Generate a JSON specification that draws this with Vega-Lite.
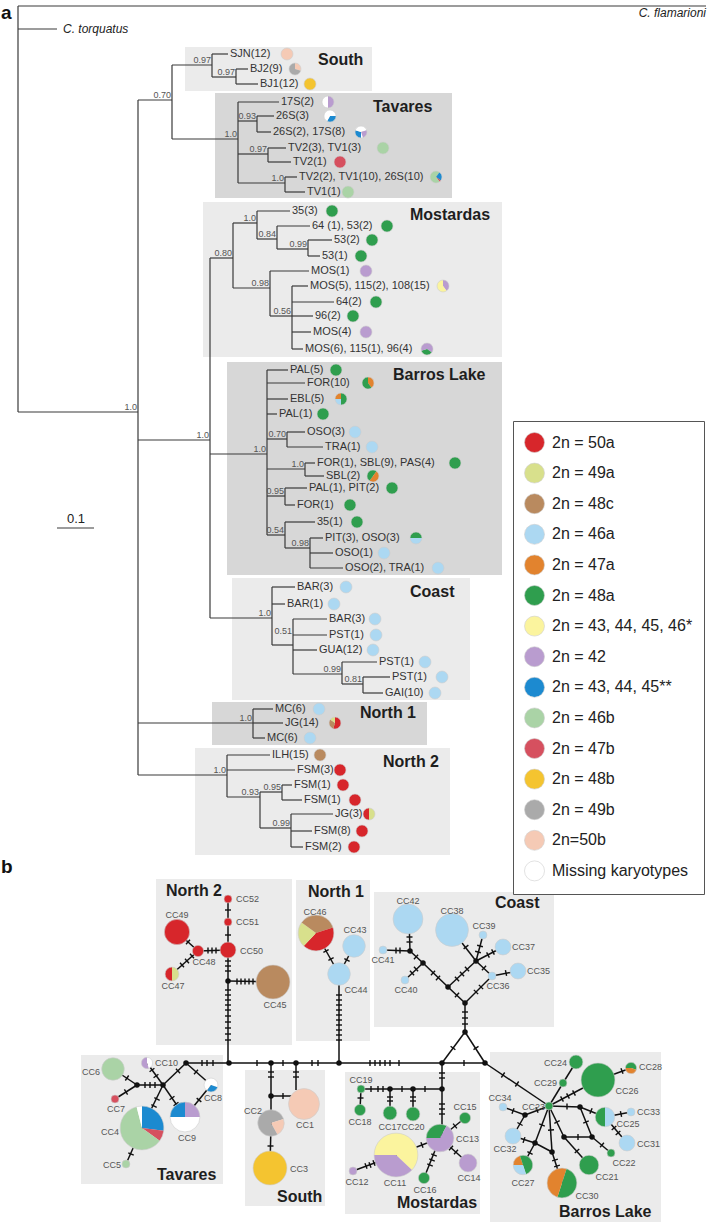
{
"$schema": "https://vega.github.io/schema/vega-lite/v6.json",
"width": 711, "height": 1224, "autosize": {"type": "none"}, "padding": 0,
"background": "white",
"config": {"view": {"stroke": null}, "font": "Liberation Sans"},
"datasets": {
"boxes": [
{"x":185,"y":47,"x2":372,"y2":91,"s":"l"},
{"x":215,"y":93,"x2":452,"y2":198,"s":"d"},
{"x":203,"y":202,"x2":502,"y2":357,"s":"l"},
{"x":227,"y":362,"x2":502,"y2":575,"s":"d"},
{"x":232,"y":578,"x2":470,"y2":700,"s":"l"},
{"x":212,"y":702,"x2":427,"y2":745,"s":"d"},
{"x":195,"y":748,"x2":450,"y2":855,"s":"l"},
{"x":156,"y":879,"x2":292,"y2":1045,"s":"l"},
{"x":296,"y":880,"x2":370,"y2":1041,"s":"l"},
{"x":374,"y":892,"x2":554,"y2":1027,"s":"l"},
{"x":81,"y":1055,"x2":223,"y2":1184,"s":"l"},
{"x":245,"y":1070,"x2":325,"y2":1206,"s":"l"},
{"x":345,"y":1072,"x2":480,"y2":1214,"s":"l"},
{"x":490,"y":1052,"x2":661,"y2":1222,"s":"l"}
],
"tree": [
{"x":18,"y":6,"x2":706,"y2":6},{"x":18,"y":6,"x2":18,"y2":412},{"x":18,"y":29,"x2":57,"y2":29},{"x":18,"y":412,"x2":138,"y2":412},
{"x":138,"y":100,"x2":138,"y2":775},{"x":138,"y":100,"x2":172,"y2":100},{"x":172,"y":65,"x2":172,"y2":139},{"x":172,"y":65,"x2":212,"y2":65},
{"x":212,"y":54,"x2":212,"y2":77},{"x":212,"y":54,"x2":228,"y2":54},{"x":212,"y":77,"x2":236,"y2":77},{"x":236,"y":69,"x2":236,"y2":84},
{"x":236,"y":69,"x2":248,"y2":69},{"x":236,"y":84,"x2":258,"y2":84},{"x":172,"y":139,"x2":238,"y2":139},{"x":238,"y":102,"x2":238,"y2":183},
{"x":238,"y":102,"x2":279,"y2":102},{"x":238,"y":121,"x2":257,"y2":121},{"x":257,"y":116,"x2":257,"y2":132},{"x":257,"y":116,"x2":274,"y2":116},
{"x":257,"y":132,"x2":271,"y2":132},{"x":238,"y":154,"x2":268,"y2":154},{"x":268,"y":148,"x2":268,"y2":162},{"x":268,"y":148,"x2":286,"y2":148},
{"x":268,"y":162,"x2":291,"y2":162},{"x":238,"y":183,"x2":285,"y2":183},{"x":285,"y":177,"x2":285,"y2":192},{"x":285,"y":177,"x2":297,"y2":177},
{"x":285,"y":192,"x2":305,"y2":192},
{"x":138,"y":440,"x2":210,"y2":440},{"x":210,"y":258,"x2":210,"y2":618},{"x":210,"y":258,"x2":233,"y2":258},{"x":233,"y":223,"x2":233,"y2":288},
{"x":233,"y":223,"x2":257,"y2":223},{"x":257,"y":211,"x2":257,"y2":239},{"x":257,"y":211,"x2":290,"y2":211},{"x":257,"y":239,"x2":277,"y2":239},
{"x":277,"y":226,"x2":277,"y2":249},{"x":277,"y":226,"x2":310,"y2":226},{"x":277,"y":249,"x2":308,"y2":249},{"x":308,"y":240,"x2":308,"y2":256},
{"x":308,"y":240,"x2":332,"y2":240},{"x":308,"y":256,"x2":320,"y2":256},{"x":233,"y":288,"x2":270,"y2":288},{"x":270,"y":271,"x2":270,"y2":316},
{"x":270,"y":271,"x2":309,"y2":271},{"x":270,"y":316,"x2":292,"y2":316},{"x":292,"y":286,"x2":292,"y2":349},{"x":292,"y":286,"x2":308,"y2":286},
{"x":292,"y":302,"x2":334,"y2":302},{"x":292,"y":316,"x2":313,"y2":316},{"x":292,"y":332,"x2":311,"y2":332},{"x":292,"y":349,"x2":303,"y2":349},
{"x":210,"y":454,"x2":267,"y2":454},{"x":267,"y":370,"x2":267,"y2":535},{"x":267,"y":370,"x2":288,"y2":370},{"x":267,"y":383,"x2":305,"y2":383},
{"x":267,"y":399,"x2":288,"y2":399},{"x":267,"y":414,"x2":277,"y2":414},{"x":267,"y":439,"x2":287,"y2":439},{"x":287,"y":432,"x2":287,"y2":447},
{"x":287,"y":432,"x2":305,"y2":432},{"x":287,"y":447,"x2":323,"y2":447},{"x":267,"y":469,"x2":305,"y2":469},{"x":305,"y":463,"x2":305,"y2":476},
{"x":305,"y":463,"x2":315,"y2":463},{"x":305,"y":476,"x2":324,"y2":476},{"x":267,"y":496,"x2":285,"y2":496},{"x":285,"y":488,"x2":285,"y2":505},
{"x":285,"y":488,"x2":307,"y2":488},{"x":285,"y":505,"x2":295,"y2":505},{"x":267,"y":535,"x2":285,"y2":535},{"x":285,"y":522,"x2":285,"y2":548},
{"x":285,"y":522,"x2":315,"y2":522},{"x":285,"y":548,"x2":310,"y2":548},{"x":310,"y":538,"x2":310,"y2":568},{"x":310,"y":538,"x2":323,"y2":538},
{"x":310,"y":553,"x2":333,"y2":553},{"x":310,"y":568,"x2":343,"y2":568},
{"x":210,"y":618,"x2":272,"y2":618},{"x":272,"y":587,"x2":272,"y2":645},{"x":272,"y":587,"x2":295,"y2":587},{"x":272,"y":604,"x2":285,"y2":604},
{"x":272,"y":645,"x2":293,"y2":645},{"x":293,"y":619,"x2":293,"y2":674},{"x":293,"y":619,"x2":327,"y2":619},{"x":293,"y":635,"x2":327,"y2":635},
{"x":293,"y":650,"x2":317,"y2":650},{"x":293,"y":674,"x2":342,"y2":674},{"x":342,"y":662,"x2":342,"y2":684},{"x":342,"y":662,"x2":377,"y2":662},
{"x":342,"y":684,"x2":363,"y2":684},{"x":363,"y":677,"x2":363,"y2":693},{"x":363,"y":677,"x2":390,"y2":677},{"x":363,"y":693,"x2":383,"y2":693},
{"x":138,"y":723,"x2":253,"y2":723},{"x":253,"y":709,"x2":253,"y2":738},{"x":253,"y":709,"x2":273,"y2":709},{"x":253,"y":723,"x2":283,"y2":723},
{"x":253,"y":738,"x2":265,"y2":738},
{"x":138,"y":775,"x2":227,"y2":775},{"x":227,"y":755,"x2":227,"y2":797},{"x":227,"y":755,"x2":270,"y2":755},{"x":227,"y":770,"x2":295,"y2":770},
{"x":227,"y":797,"x2":260,"y2":797},{"x":260,"y":792,"x2":260,"y2":828},{"x":260,"y":792,"x2":282,"y2":792},{"x":282,"y":785,"x2":282,"y2":800},
{"x":282,"y":785,"x2":292,"y2":785},{"x":282,"y":800,"x2":302,"y2":800},{"x":260,"y":828,"x2":291,"y2":828},{"x":291,"y":814,"x2":291,"y2":847},
{"x":291,"y":814,"x2":333,"y2":814},{"x":291,"y":831,"x2":312,"y2":831},{"x":291,"y":847,"x2":303,"y2":847},
{"x":57,"y":528,"x2":94,"y2":528}
],
"tips": [
{"t":"SJN(12)","x":230,"y":54},{"t":"BJ2(9)","x":250,"y":69},{"t":"BJ1(12)","x":260,"y":84},
{"t":"17S(2)","x":281,"y":102},{"t":"26S(3)","x":276,"y":116},{"t":"26S(2), 17S(8)","x":273,"y":132},
{"t":"TV2(3), TV1(3)","x":288,"y":148},{"t":"TV2(1)","x":293,"y":162},{"t":"TV2(2), TV1(10), 26S(10)","x":299,"y":177},{"t":"TV1(1)","x":307,"y":192},
{"t":"35(3)","x":292,"y":211},{"t":"64 (1), 53(2)","x":312,"y":226},{"t":"53(2)","x":334,"y":240},{"t":"53(1)","x":322,"y":256},
{"t":"MOS(1)","x":311,"y":271},{"t":"MOS(5), 115(2), 108(15)","x":310,"y":286},{"t":"64(2)","x":336,"y":302},{"t":"96(2)","x":315,"y":316},
{"t":"MOS(4)","x":313,"y":332},{"t":"MOS(6), 115(1), 96(4)","x":305,"y":349},
{"t":"PAL(5)","x":290,"y":370},{"t":"FOR(10)","x":307,"y":383},{"t":"EBL(5)","x":290,"y":399},{"t":"PAL(1)","x":279,"y":414},
{"t":"OSO(3)","x":307,"y":432},{"t":"TRA(1)","x":325,"y":447},{"t":"FOR(1), SBL(9), PAS(4)","x":317,"y":463},{"t":"SBL(2)","x":326,"y":476},
{"t":"PAL(1), PIT(2)","x":309,"y":488},{"t":"FOR(1)","x":297,"y":505},{"t":"35(1)","x":317,"y":522},{"t":"PIT(3), OSO(3)","x":325,"y":538},
{"t":"OSO(1)","x":335,"y":553},{"t":"OSO(2), TRA(1)","x":345,"y":568},
{"t":"BAR(3)","x":297,"y":587},{"t":"BAR(1)","x":287,"y":604},{"t":"BAR(3)","x":329,"y":619},{"t":"PST(1)","x":329,"y":635},
{"t":"GUA(12)","x":319,"y":650},{"t":"PST(1)","x":379,"y":662},{"t":"PST(1)","x":392,"y":677},{"t":"GAI(10)","x":385,"y":693},
{"t":"MC(6)","x":275,"y":709},{"t":"JG(14)","x":285,"y":723},{"t":"MC(6)","x":267,"y":738},
{"t":"ILH(15)","x":272,"y":755},{"t":"FSM(3)","x":297,"y":770},{"t":"FSM(1)","x":294,"y":785},{"t":"FSM(1)","x":304,"y":800},
{"t":"JG(3)","x":335,"y":814},{"t":"FSM(8)","x":314,"y":831},{"t":"FSM(2)","x":305,"y":847}
],
"sup": [
{"t":"1.0","x":138,"y":412},{"t":"0.70","x":172,"y":100},{"t":"0.97","x":212,"y":65},{"t":"0.97","x":236,"y":77},{"t":"1.0","x":238,"y":139},
{"t":"0.93","x":257,"y":121},{"t":"0.97","x":268,"y":154},{"t":"1.0","x":285,"y":183},{"t":"1.0","x":210,"y":440},{"t":"0.80","x":233,"y":258},
{"t":"1.0","x":257,"y":223},{"t":"0.84","x":277,"y":239},{"t":"0.99","x":308,"y":249},{"t":"0.98","x":270,"y":288},{"t":"0.56","x":292,"y":316},
{"t":"1.0","x":267,"y":454},{"t":"0.70","x":287,"y":439},{"t":"1.0","x":305,"y":469},{"t":"0.95","x":285,"y":496},{"t":"0.54","x":285,"y":535},
{"t":"0.98","x":310,"y":548},{"t":"1.0","x":272,"y":618},{"t":"0.51","x":293,"y":636},{"t":"0.99","x":342,"y":674},{"t":"0.81","x":363,"y":684},
{"t":"1.0","x":253,"y":723},{"t":"1.0","x":227,"y":775},{"t":"0.93","x":260,"y":797},{"t":"0.95","x":282,"y":792},{"t":"0.99","x":291,"y":828}
],
"titles": [
{"t":"South","x":318,"y":60},{"t":"Tavares","x":373,"y":107},{"t":"Mostardas","x":410,"y":215},{"t":"Barros Lake","x":393,"y":375},
{"t":"Coast","x":410,"y":592},{"t":"North 1","x":360,"y":713},{"t":"North 2","x":383,"y":762},
{"t":"North 2","x":166,"y":891},{"t":"North 1","x":308,"y":892},{"t":"Coast","x":495,"y":903},{"t":"Tavares","x":157,"y":1175},
{"t":"South","x":277,"y":1197},{"t":"Mostardas","x":397,"y":1203},{"t":"Barros Lake","x":559,"y":1212}
],
"tpies": [
{"id":"t1","x":287,"y":54,"k":"2n=50b","f":1},
{"id":"t2","x":295,"y":69,"k":"2n=50b","f":0.3,"o":1},{"id":"t2","x":295,"y":69,"k":"2n = 49b","f":0.7,"o":2},
{"id":"t3","x":310,"y":84,"k":"2n = 48b","f":1},
{"id":"t4","x":328,"y":102,"k":"2n = 42","f":0.5,"o":1},{"id":"t4","x":328,"y":102,"k":"Missing karyotypes","f":0.5,"o":2},
{"id":"t5","x":330,"y":116,"k":"Missing karyotypes","f":0.25,"o":1},{"id":"t5","x":330,"y":116,"k":"2n = 43, 44, 45**","f":0.33,"o":2},{"id":"t5","x":330,"y":116,"k":"Missing karyotypes","f":0.42,"o":3},
{"id":"t6","x":361,"y":132,"k":"Missing karyotypes","f":0.2,"o":1},{"id":"t6","x":361,"y":132,"k":"2n = 42","f":0.25,"o":2},{"id":"t6","x":361,"y":132,"k":"Missing karyotypes","f":0.05,"o":3},{"id":"t6","x":361,"y":132,"k":"2n = 43, 44, 45**","f":0.3,"o":4},{"id":"t6","x":361,"y":132,"k":"Missing karyotypes","f":0.2,"o":5},
{"id":"t7","x":383,"y":148,"k":"2n = 46b","f":1},
{"id":"t8","x":340,"y":162,"k":"2n = 47b","f":1},
{"id":"t9","x":436,"y":177,"k":"2n = 46b","f":0.1,"o":1},{"id":"t9","x":436,"y":177,"k":"2n = 43, 44, 45**","f":0.25,"o":2},{"id":"t9","x":436,"y":177,"k":"2n = 47b","f":0.05,"o":3},{"id":"t9","x":436,"y":177,"k":"2n = 46b","f":0.6,"o":4},
{"id":"t10","x":348,"y":192,"k":"2n = 46b","f":1},
{"id":"t11","x":332,"y":211,"k":"2n = 48a","f":1},
{"id":"t12","x":387,"y":226,"k":"2n = 48a","f":1},
{"id":"t13","x":372,"y":240,"k":"2n = 48a","f":1},
{"id":"t14","x":361,"y":256,"k":"2n = 48a","f":1},
{"id":"t15","x":366,"y":271,"k":"2n = 42","f":1},
{"id":"t16","x":443,"y":286,"k":"2n = 42","f":0.4,"o":1},{"id":"t16","x":443,"y":286,"k":"2n = 43, 44, 45, 46*","f":0.6,"o":2},
{"id":"t17","x":376,"y":302,"k":"2n = 48a","f":1},
{"id":"t18","x":353,"y":316,"k":"2n = 48a","f":1},
{"id":"t19","x":366,"y":332,"k":"2n = 42","f":1},
{"id":"t20","x":427,"y":349,"k":"2n = 42","f":0.35,"o":1},{"id":"t20","x":427,"y":349,"k":"2n = 48a","f":0.35,"o":2},{"id":"t20","x":427,"y":349,"k":"2n = 42","f":0.3,"o":3},
{"id":"t21","x":336,"y":370,"k":"2n = 48a","f":1},
{"id":"t22","x":368,"y":383,"k":"2n = 47a","f":0.4,"o":1},{"id":"t22","x":368,"y":383,"k":"2n = 48a","f":0.6,"o":2},
{"id":"t23","x":341,"y":399,"k":"2n = 48a","f":0.5,"o":1},{"id":"t23","x":341,"y":399,"k":"2n = 46a","f":0.25,"o":2},{"id":"t23","x":341,"y":399,"k":"2n = 47a","f":0.25,"o":3},
{"id":"t24","x":323,"y":414,"k":"2n = 48a","f":1},
{"id":"t25","x":355,"y":432,"k":"2n = 46a","f":1},
{"id":"t26","x":372,"y":447,"k":"2n = 46a","f":1},
{"id":"t27","x":455,"y":463,"k":"2n = 48a","f":1},
{"id":"t28","x":373,"y":476,"k":"2n = 48a","f":0.1,"o":1},{"id":"t28","x":373,"y":476,"k":"2n = 47a","f":0.5,"o":2},{"id":"t28","x":373,"y":476,"k":"2n = 48a","f":0.4,"o":3},
{"id":"t29","x":392,"y":488,"k":"2n = 48a","f":1},
{"id":"t30","x":350,"y":505,"k":"2n = 48a","f":1},
{"id":"t31","x":357,"y":522,"k":"2n = 48a","f":1},
{"id":"t32","x":416,"y":538,"k":"2n = 48a","f":0.25,"o":1},{"id":"t32","x":416,"y":538,"k":"2n = 46a","f":0.5,"o":2},{"id":"t32","x":416,"y":538,"k":"2n = 48a","f":0.25,"o":3},
{"id":"t33","x":384,"y":553,"k":"2n = 46a","f":1},
{"id":"t34","x":438,"y":568,"k":"2n = 46a","f":1},
{"id":"t35","x":346,"y":587,"k":"2n = 46a","f":1},
{"id":"t36","x":334,"y":604,"k":"2n = 46a","f":1},
{"id":"t37","x":375,"y":619,"k":"2n = 46a","f":1},
{"id":"t38","x":376,"y":635,"k":"2n = 46a","f":1},
{"id":"t39","x":373,"y":650,"k":"2n = 46a","f":1},
{"id":"t40","x":425,"y":662,"k":"2n = 46a","f":1},
{"id":"t41","x":442,"y":677,"k":"2n = 46a","f":1},
{"id":"t42","x":435,"y":693,"k":"2n = 46a","f":1},
{"id":"t43","x":319,"y":709,"k":"2n = 46a","f":1},
{"id":"t44","x":335,"y":723,"k":"2n = 50a","f":0.55,"o":1},{"id":"t44","x":335,"y":723,"k":"2n = 48c","f":0.3,"o":2},{"id":"t44","x":335,"y":723,"k":"2n = 49a","f":0.15,"o":3},
{"id":"t45","x":310,"y":738,"k":"2n = 46a","f":1},
{"id":"t46","x":320,"y":755,"k":"2n = 48c","f":1},
{"id":"t47","x":340,"y":770,"k":"2n = 50a","f":1},
{"id":"t48","x":343,"y":785,"k":"2n = 50a","f":1},
{"id":"t49","x":355,"y":800,"k":"2n = 50a","f":1},
{"id":"t50","x":369,"y":814,"k":"2n = 49a","f":0.5,"o":1},{"id":"t50","x":369,"y":814,"k":"2n = 50a","f":0.5,"o":2},
{"id":"t51","x":362,"y":831,"k":"2n = 50a","f":1},
{"id":"t52","x":354,"y":847,"k":"2n = 50a","f":1}
],
"npies": [
{"id":"CC52","x":228,"y":899,"n":1,"k":"2n = 50a","f":1},
{"id":"CC51","x":228,"y":922,"n":1,"k":"2n = 50a","f":1},
{"id":"CC50","x":228,"y":950,"n":4,"k":"2n = 50a","f":1},
{"id":"CC49","x":177,"y":932,"n":10,"k":"2n = 50a","f":1},
{"id":"CC48","x":198,"y":951,"n":2,"k":"2n = 50a","f":1},
{"id":"CC47","x":172,"y":974,"n":3,"k":"2n = 49a","f":0.5,"o":1},{"id":"CC47","x":172,"y":974,"n":3,"k":"2n = 50a","f":0.5,"o":2},
{"id":"CC45","x":273,"y":982,"n":18,"k":"2n = 48c","f":1},
{"id":"CC46","x":316,"y":933,"n":20,"k":"2n = 48c","f":0.2,"o":1},{"id":"CC46","x":316,"y":933,"n":20,"k":"2n = 50a","f":0.42,"o":2},{"id":"CC46","x":316,"y":933,"n":20,"k":"2n = 49a","f":0.23,"o":3},{"id":"CC46","x":316,"y":933,"n":20,"k":"2n = 48c","f":0.15,"o":4},
{"id":"CC43","x":354,"y":946,"n":8,"k":"2n = 46a","f":1},
{"id":"CC44","x":339,"y":974,"n":8,"k":"2n = 46a","f":1},
{"id":"CC42","x":408,"y":919,"n":14,"k":"2n = 46a","f":1},
{"id":"CC38","x":452,"y":930,"n":17,"k":"2n = 46a","f":1},
{"id":"CC39","x":483,"y":935,"n":1,"k":"2n = 46a","f":1},
{"id":"CC37","x":503,"y":947,"n":4,"k":"2n = 46a","f":1},
{"id":"CC35","x":518,"y":971,"n":4,"k":"2n = 46a","f":1},
{"id":"CC36","x":492,"y":976,"n":1,"k":"2n = 46a","f":1},
{"id":"CC41","x":383,"y":950,"n":1,"k":"2n = 46a","f":1},
{"id":"CC40","x":405,"y":980,"n":1,"k":"2n = 46a","f":1},
{"id":"CC6","x":113,"y":1069,"n":8,"k":"2n = 46b","f":1},
{"id":"CC7","x":115,"y":1099,"n":1,"k":"2n = 47b","f":1},
{"id":"CC10","x":147,"y":1063,"n":2,"k":"Missing karyotypes","f":0.45,"o":1},{"id":"CC10","x":147,"y":1063,"n":2,"k":"2n = 42","f":0.55,"o":2},
{"id":"CC8","x":211,"y":1085,"n":3,"k":"Missing karyotypes","f":0.3,"o":1},{"id":"CC8","x":211,"y":1085,"n":3,"k":"2n = 43, 44, 45**","f":0.3,"o":2},{"id":"CC8","x":211,"y":1085,"n":3,"k":"Missing karyotypes","f":0.4,"o":3},
{"id":"CC9","x":185,"y":1117,"n":14,"k":"2n = 42","f":0.25,"o":1},{"id":"CC9","x":185,"y":1117,"n":14,"k":"Missing karyotypes","f":0.5,"o":2},{"id":"CC9","x":185,"y":1117,"n":14,"k":"2n = 43, 44, 45**","f":0.25,"o":3},
{"id":"CC4","x":142,"y":1128,"n":30,"k":"2n = 43, 44, 45**","f":0.27,"o":1},{"id":"CC4","x":142,"y":1128,"n":30,"k":"2n = 47b","f":0.08,"o":2},{"id":"CC4","x":142,"y":1128,"n":30,"k":"2n = 46b","f":0.61,"o":3},{"id":"CC4","x":142,"y":1128,"n":30,"k":"Missing karyotypes","f":0.04,"o":4},
{"id":"CC5","x":126,"y":1164,"n":1,"k":"2n = 46b","f":1},
{"id":"CC1","x":304,"y":1104,"n":15,"k":"2n=50b","f":1},
{"id":"CC2","x":271,"y":1123,"n":11,"k":"2n = 49b","f":0.2,"o":1},{"id":"CC2","x":271,"y":1123,"n":11,"k":"2n=50b","f":0.22,"o":2},{"id":"CC2","x":271,"y":1123,"n":11,"k":"2n = 49b","f":0.58,"o":3},
{"id":"CC3","x":270,"y":1168,"n":18,"k":"2n = 48b","f":1},
{"id":"CC19","x":361,"y":1089,"n":1,"k":"2n = 48a","f":1},
{"id":"CC18","x":360,"y":1110,"n":2,"k":"2n = 48a","f":1},
{"id":"CC17","x":390,"y":1113,"n":3,"k":"2n = 48a","f":1},
{"id":"CC20","x":413,"y":1114,"n":3,"k":"2n = 48a","f":1},
{"id":"CC13","x":440,"y":1138,"n":12,"k":"2n = 48a","f":0.08,"o":1},{"id":"CC13","x":440,"y":1138,"n":12,"k":"2n = 42","f":0.67,"o":2},{"id":"CC13","x":440,"y":1138,"n":12,"k":"2n = 48a","f":0.25,"o":3},
{"id":"CC15","x":465,"y":1118,"n":2,"k":"2n = 48a","f":1},
{"id":"CC14","x":468,"y":1163,"n":5,"k":"2n = 42","f":1},
{"id":"CC16","x":424,"y":1178,"n":2,"k":"2n = 48a","f":1},
{"id":"CC11","x":396,"y":1155,"n":30,"k":"2n = 43, 44, 45, 46*","f":0.37,"o":1},{"id":"CC11","x":396,"y":1155,"n":30,"k":"2n = 42","f":0.38,"o":2},{"id":"CC11","x":396,"y":1155,"n":30,"k":"2n = 43, 44, 45, 46*","f":0.25,"o":3},
{"id":"CC12","x":353,"y":1171,"n":1,"k":"2n = 42","f":1},
{"id":"CC23","x":549,"y":1106,"n":1,"k":"2n = 48a","f":1},
{"id":"CC24","x":576,"y":1062,"n":3,"k":"2n = 48a","f":1},
{"id":"CC29","x":563,"y":1083,"n":1,"k":"2n = 48a","f":1},
{"id":"CC26","x":598,"y":1080,"n":18,"k":"2n = 48a","f":1},
{"id":"CC28","x":631,"y":1068,"n":2,"k":"2n = 48a","f":0.3,"o":1},{"id":"CC28","x":631,"y":1068,"n":2,"k":"2n = 47a","f":0.45,"o":2},{"id":"CC28","x":631,"y":1068,"n":2,"k":"2n = 48a","f":0.25,"o":3},
{"id":"CC34","x":503,"y":1107,"n":1,"k":"2n = 46a","f":1},
{"id":"CC25","x":605,"y":1117,"n":6,"k":"2n = 46a","f":0.5,"o":1},{"id":"CC25","x":605,"y":1117,"n":6,"k":"2n = 48a","f":0.5,"o":2},
{"id":"CC33","x":631,"y":1112,"n":1,"k":"2n = 46a","f":1},
{"id":"CC31","x":627,"y":1143,"n":4,"k":"2n = 46a","f":1},
{"id":"CC22","x":611,"y":1153,"n":1,"k":"2n = 48a","f":1},
{"id":"CC21","x":589,"y":1165,"n":6,"k":"2n = 48a","f":1},
{"id":"CC30","x":562,"y":1183,"n":14,"k":"2n = 47a","f":0.05,"o":1},{"id":"CC30","x":562,"y":1183,"n":14,"k":"2n = 48a","f":0.5,"o":2},{"id":"CC30","x":562,"y":1183,"n":14,"k":"2n = 47a","f":0.45,"o":3},
{"id":"CC27","x":523,"y":1165,"n":6,"k":"2n = 48a","f":0.45,"o":1},{"id":"CC27","x":523,"y":1165,"n":6,"k":"2n = 46a","f":0.3,"o":2},{"id":"CC27","x":523,"y":1165,"n":6,"k":"2n = 47a","f":0.2,"o":3},{"id":"CC27","x":523,"y":1165,"n":6,"k":"2n = 48a","f":0.05,"o":4},
{"id":"CC32","x":513,"y":1136,"n":4,"k":"2n = 46a","f":1}
],
"edges": [
{"x":228,"y":899,"x2":228,"y2":1063},{"x":177,"y":932,"x2":198,"y2":951},{"x":198,"y":951,"x2":228,"y2":950},{"x":198,"y":951,"x2":172,"y2":974},{"x":228,"y":981,"x2":273,"y2":982},
{"x":316,"y":933,"x2":339,"y2":974},{"x":354,"y":946,"x2":339,"y2":974},{"x":339,"y":974,"x2":339,"y2":1063},
{"x":409,"y":919,"x2":410,"y2":951},{"x":383,"y":950,"x2":410,"y2":951},{"x":410,"y":951,"x2":423,"y2":963},{"x":423,"y":963,"x2":405,"y2":980},{"x":423,"y":963,"x2":448,"y2":987},
{"x":448,"y":987,"x2":465,"y2":1003},{"x":448,"y":987,"x2":476,"y2":961},{"x":465,"y":1003,"x2":492,"y2":976},{"x":476,"y":961,"x2":492,"y2":976},{"x":476,"y":961,"x2":452,"y2":930},
{"x":476,"y":961,"x2":483,"y2":935},{"x":476,"y":961,"x2":503,"y2":947},{"x":492,"y":976,"x2":518,"y2":971},{"x":465,"y":1003,"x2":465,"y2":1032},{"x":465,"y":1032,"x2":442,"y2":1063},{"x":465,"y":1032,"x2":485,"y2":1063},
{"x":186,"y":1063,"x2":485,"y2":1063},{"x":485,"y":1063,"x2":549,"y2":1106},
{"x":271,"y":1063,"x2":271,"y2":1123},{"x":296,"y":1063,"x2":296,"y2":1090},{"x":271,"y":1096,"x2":300,"y2":1096},{"x":271,"y":1123,"x2":270,"y2":1168},
{"x":442,"y":1063,"x2":442,"y2":1138},{"x":361,"y":1089,"x2":442,"y2":1089},{"x":361,"y":1089,"x2":360,"y2":1110},{"x":390,"y":1089,"x2":390,"y2":1113},{"x":413,"y":1089,"x2":413,"y2":1114},
{"x":440,"y":1138,"x2":465,"y2":1118},{"x":440,"y":1138,"x2":468,"y2":1163},{"x":440,"y":1138,"x2":424,"y2":1178},{"x":440,"y":1138,"x2":396,"y2":1155},{"x":396,"y":1155,"x2":353,"y2":1171},
{"x":186,"y":1063,"x2":163,"y2":1085},{"x":186,"y":1063,"x2":211,"y2":1085},{"x":163,"y":1085,"x2":137,"y2":1085},{"x":137,"y":1085,"x2":113,"y2":1069},{"x":137,"y":1085,"x2":115,"y2":1099},
{"x":163,"y":1085,"x2":147,"y2":1063},{"x":163,"y":1085,"x2":142,"y2":1128},{"x":163,"y":1085,"x2":185,"y2":1117},{"x":211,"y":1085,"x2":185,"y2":1117},{"x":142,"y":1128,"x2":126,"y2":1164},
{"x":549,"y":1106,"x2":563,"y2":1083},{"x":563,"y":1083,"x2":576,"y2":1062},{"x":549,"y":1106,"x2":598,"y2":1080},{"x":598,"y":1080,"x2":631,"y2":1068},{"x":549,"y":1106,"x2":580,"y2":1107},
{"x":580,"y":1107,"x2":605,"y2":1117},{"x":605,"y":1117,"x2":631,"y2":1112},{"x":605,"y":1117,"x2":627,"y2":1143},{"x":580,"y":1107,"x2":592,"y2":1137},{"x":549,"y":1106,"x2":564,"y2":1137},
{"x":564,"y":1137,"x2":592,"y2":1137},{"x":564,"y":1137,"x2":589,"y2":1165},{"x":592,"y":1137,"x2":611,"y2":1153},{"x":549,"y":1106,"x2":525,"y2":1115},{"x":525,"y":1115,"x2":503,"y2":1107},
{"x":525,"y":1115,"x2":513,"y2":1136},{"x":549,"y":1106,"x2":535,"y2":1143},{"x":513,"y":1136,"x2":535,"y2":1143},{"x":535,"y":1143,"x2":523,"y2":1165},{"x":535,"y":1143,"x2":552,"y2":1152},
{"x":549,"y":1106,"x2":552,"y2":1152},{"x":552,"y":1152,"x2":562,"y2":1183}
],
"ticks": [
{"x":202,"y":1063,"a":0},{"x":207,"y":1063,"a":0},{"x":213,"y":1063,"a":0},{"x":257,"y":1063,"a":0},{"x":283,"y":1063,"a":0},{"x":312,"y":1063,"a":0},{"x":318,"y":1063,"a":0},
{"x":370,"y":1063,"a":0},{"x":375,"y":1063,"a":0},{"x":380,"y":1063,"a":0},{"x":385,"y":1063,"a":0},{"x":390,"y":1063,"a":0},{"x":399,"y":1063,"a":0},{"x":464,"y":1063,"a":0},
{"x":453,"y":1048,"a":127},{"x":476,"y":1048,"a":57},{"x":465,"y":1012,"a":90},{"x":465,"y":1018,"a":90},{"x":465,"y":1024,"a":90},
{"x":228,"y":910,"a":90},{"x":228,"y":935,"a":90},{"x":228,"y":961,"a":90},{"x":228,"y":966,"a":90},{"x":228,"y":971,"a":90},
{"x":228,"y":990,"a":90},{"x":228,"y":995,"a":90},{"x":228,"y":1000,"a":90},{"x":228,"y":1005,"a":90},{"x":228,"y":1010,"a":90},{"x":228,"y":1016,"a":90},{"x":228,"y":1022,"a":90},{"x":228,"y":1028,"a":90},{"x":228,"y":1034,"a":90},{"x":228,"y":1040,"a":90},
{"x":237,"y":981.5,"a":0},{"x":241,"y":981.5,"a":0},{"x":245,"y":981.5,"a":0},{"x":249,"y":981.5,"a":0},{"x":253,"y":981.5,"a":0},
{"x":208,"y":950.5,"a":0},{"x":212,"y":950.5,"a":0},{"x":216,"y":950.5,"a":0},{"x":188,"y":942,"a":42},
{"x":192,"y":956,"a":138},{"x":187,"y":961,"a":138},{"x":182,"y":965,"a":138},
{"x":326,"y":951,"a":61},{"x":331,"y":959,"a":61},{"x":347,"y":960,"a":118},
{"x":339,"y":995,"a":90},{"x":339,"y":1000,"a":90},{"x":339,"y":1005,"a":90},{"x":339,"y":1010,"a":90},{"x":339,"y":1015,"a":90},{"x":339,"y":1020,"a":90},{"x":339,"y":1025,"a":90},{"x":339,"y":1030,"a":90},{"x":339,"y":1035,"a":90},{"x":339,"y":1040,"a":90},
{"x":396,"y":950.5,"a":0},{"x":400,"y":950.5,"a":0},{"x":409.5,"y":937,"a":90},{"x":409.5,"y":942,"a":90},{"x":416,"y":957,"a":43},{"x":416,"y":969,"a":137},{"x":412,"y":973,"a":137},
{"x":433,"y":973,"a":44},{"x":438,"y":978,"a":44},{"x":457,"y":995,"a":43},{"x":457,"y":979,"a":-43},{"x":462,"y":974,"a":-43},{"x":467,"y":969,"a":-43},{"x":476,"y":992,"a":-45},{"x":481,"y":987,"a":-45},
{"x":484,"y":968,"a":43},{"x":466,"y":947,"a":52},{"x":478,"y":952,"a":-75},{"x":480,"y":946,"a":-75},{"x":488,"y":955,"a":-27},{"x":493,"y":952,"a":-27},{"x":506,"y":973,"a":-11},
{"x":442,"y":1073,"a":90},{"x":442,"y":1078,"a":90},{"x":442,"y":1104,"a":90},{"x":442,"y":1109,"a":90},{"x":442,"y":1114,"a":90},
{"x":371,"y":1089,"a":0},{"x":378,"y":1089,"a":0},{"x":383,"y":1089,"a":0},{"x":402,"y":1089,"a":0},{"x":425,"y":1089,"a":0},
{"x":390,"y":1097,"a":90},{"x":390,"y":1101,"a":90},{"x":413,"y":1097,"a":90},{"x":413,"y":1101,"a":90},{"x":360.5,"y":1098,"a":90},
{"x":455,"y":1126,"a":-39},{"x":451,"y":1148,"a":42},{"x":456,"y":1152,"a":42},{"x":434,"y":1155,"a":112},{"x":432,"y":1160,"a":112},{"x":430,"y":1165,"a":112},
{"x":422,"y":1145,"a":159},{"x":366,"y":1166,"a":160},{"x":370,"y":1165,"a":160},{"x":374,"y":1163,"a":160},
{"x":271,"y":1072,"a":90},{"x":271,"y":1077,"a":90},{"x":296,"y":1072,"a":90},{"x":296,"y":1077,"a":90},{"x":283,"y":1096,"a":0},{"x":270.5,"y":1146,"a":90},
{"x":178,"y":1071,"a":136},{"x":156,"y":1076,"a":54},{"x":152,"y":1070,"a":54},{"x":145,"y":1085,"a":0},{"x":150,"y":1085,"a":0},{"x":155,"y":1085,"a":0},
{"x":127,"y":1078,"a":34},{"x":126,"y":1092,"a":148},{"x":157,"y":1099,"a":116},{"x":154,"y":1106,"a":116},{"x":172,"y":1098,"a":55},{"x":176,"y":1104,"a":55},
{"x":196,"y":1072,"a":41},{"x":199,"y":1100,"a":129},{"x":131,"y":1154,"a":114},
{"x":503,"y":1075,"a":34},{"x":517,"y":1084,"a":34},{"x":562,"y":1099,"a":-28},{"x":568,"y":1096,"a":-28},{"x":574,"y":1093,"a":-28},{"x":622,"y":1071,"a":-20},
{"x":567,"y":1106.5,"a":0},{"x":591,"y":1111,"a":22},{"x":621,"y":1114,"a":-11},{"x":614,"y":1128,"a":50},{"x":618,"y":1133,"a":50},{"x":586,"y":1122,"a":68},
{"x":557,"y":1122,"a":64},{"x":578,"y":1137,"a":0},{"x":577,"y":1151,"a":48},{"x":602,"y":1145,"a":40},{"x":537,"y":1110,"a":159},{"x":513,"y":1111,"a":20},
{"x":520,"y":1124,"a":120},{"x":542,"y":1125,"a":111},{"x":530,"y":1153,"a":119},{"x":551,"y":1130,"a":86},{"x":555,"y":1160,"a":72},{"x":557,"y":1166,"a":72},{"x":524,"y":1140,"a":18}
],
"inner": [
{"x":228,"y":981},{"x":186,"y":1063},{"x":229,"y":1063},{"x":271,"y":1063},{"x":296,"y":1063},{"x":339,"y":1063},{"x":442,"y":1063},{"x":485,"y":1063},
{"x":271,"y":1096},{"x":465,"y":1032},{"x":410,"y":951},{"x":423,"y":963},{"x":448,"y":987},{"x":465,"y":1003},{"x":476,"y":961},
{"x":442,"y":1089},{"x":390,"y":1089},{"x":413,"y":1089},{"x":163,"y":1085},{"x":137,"y":1085},
{"x":580,"y":1107},{"x":564,"y":1137},{"x":592,"y":1137},{"x":535,"y":1143},{"x":552,"y":1152},{"x":525,"y":1115}
],
"nlabels": [
{"t":"CC52","x":236,"y":899,"al":"l"},{"t":"CC51","x":236,"y":922,"al":"l"},{"t":"CC50","x":240,"y":951,"al":"l"},{"t":"CC49","x":177,"y":915,"al":"c"},
{"t":"CC48","x":204,"y":962,"al":"c"},{"t":"CC47","x":173,"y":986,"al":"c"},{"t":"CC45","x":275,"y":1005,"al":"c"},
{"t":"CC46","x":315,"y":912,"al":"c"},{"t":"CC43","x":355,"y":930,"al":"c"},{"t":"CC44","x":356,"y":990,"al":"c"},
{"t":"CC42","x":408,"y":901,"al":"c"},{"t":"CC38","x":452,"y":911,"al":"c"},{"t":"CC39","x":484,"y":926,"al":"c"},{"t":"CC37","x":512,"y":947,"al":"l"},
{"t":"CC35","x":527,"y":971,"al":"l"},{"t":"CC36","x":498,"y":986,"al":"c"},{"t":"CC41","x":383,"y":960,"al":"c"},{"t":"CC40","x":406,"y":990,"al":"c"},
{"t":"CC6","x":91,"y":1072,"al":"c"},{"t":"CC7","x":116,"y":1109,"al":"c"},{"t":"CC10","x":155,"y":1063,"al":"l"},{"t":"CC8","x":213,"y":1098,"al":"c"},
{"t":"CC9","x":187,"y":1138,"al":"c"},{"t":"CC4","x":110,"y":1132,"al":"c"},{"t":"CC5","x":112,"y":1165,"al":"c"},
{"t":"CC2","x":253,"y":1111,"al":"c"},{"t":"CC1","x":305,"y":1125,"al":"c"},{"t":"CC3","x":299,"y":1169,"al":"c"},
{"t":"CC19","x":361,"y":1080,"al":"c"},{"t":"CC18","x":360,"y":1122,"al":"c"},{"t":"CC17","x":390,"y":1127,"al":"c"},{"t":"CC20","x":413,"y":1127,"al":"c"},
{"t":"CC13","x":456,"y":1139,"al":"l"},{"t":"CC15","x":465,"y":1107,"al":"c"},{"t":"CC14","x":469,"y":1178,"al":"c"},{"t":"CC16","x":425,"y":1190,"al":"c"},
{"t":"CC11","x":395,"y":1183,"al":"c"},{"t":"CC12","x":357,"y":1182,"al":"c"},
{"t":"CC23","x":545,"y":1107,"al":"r"},{"t":"CC24","x":567,"y":1063,"al":"r"},{"t":"CC29","x":557,"y":1083,"al":"r"},{"t":"CC26","x":627,"y":1091,"al":"c"},
{"t":"CC28","x":639,"y":1067,"al":"l"},{"t":"CC34","x":500,"y":1098,"al":"c"},{"t":"CC25","x":628,"y":1124,"al":"c"},{"t":"CC33","x":637,"y":1112,"al":"l"},
{"t":"CC31","x":637,"y":1144,"al":"l"},{"t":"CC22","x":624,"y":1163,"al":"c"},{"t":"CC21","x":607,"y":1177,"al":"c"},{"t":"CC30","x":587,"y":1196,"al":"c"},
{"t":"CC27","x":523,"y":1183,"al":"c"},{"t":"CC32","x":505,"y":1149,"al":"c"}
],
"panels": [{"t":"a","x":1,"y":13},{"t":"b","x":1,"y":867}],
"species": [{"t":"C. torquatus","x":63,"y":29,"al":"l"},{"t":"C. flamarioni","x":706,"y":13,"al":"r"}],
"scale": [{"t":"0.1","x":76,"y":519}]
},
"encoding": {
"x": {"field":"x","type":"quantitative","scale":{"domain":[0,711],"nice":false,"zero":false},"axis":null},
"y": {"field":"y","type":"quantitative","scale":{"domain":[0,1224],"nice":false,"zero":false,"reverse":true},"axis":null}
},
"layer": [
{"data":{"name":"boxes"},"mark":{"type":"rect","strokeWidth":0},
 "encoding":{"x2":{"field":"x2"},"y2":{"field":"y2"},
  "fill":{"field":"s","type":"nominal","scale":{"domain":["l","d"],"range":["#ebebeb","#d7d7d7"]},"legend":null}}},
{"data":{"name":"tree"},"mark":{"type":"rule","stroke":"#3a3a3a","strokeWidth":1.2},
 "encoding":{"x2":{"field":"x2"},"y2":{"field":"y2"}}},
{"data":{"name":"tips"},"mark":{"type":"text","align":"left","baseline":"middle","fontSize":11,"color":"#333333"},
 "encoding":{"text":{"field":"t"}}},
{"data":{"name":"sup"},"mark":{"type":"text","align":"right","baseline":"bottom","dx":-1,"fontSize":9,"color":"#555555"},
 "encoding":{"text":{"field":"t"}}},
{"data":{"name":"titles"},"mark":{"type":"text","align":"left","baseline":"middle","fontSize":16,"fontWeight":"bold","color":"#1e1e1e"},
 "encoding":{"text":{"field":"t"}}},
{"data":{"name":"tpies"},
 "transform":[{"stack":"f","groupby":["id"],"sort":[{"field":"o","order":"ascending"}],"as":["t0","t1"],"offset":"normalize"}],
 "mark":{"type":"arc","outerRadius":6,"strokeWidth":0},
 "encoding":{
  "theta":{"field":"t0","type":"quantitative","scale":{"domain":[0,1],"range":[0,6.283185]}},
  "theta2":{"field":"t1"},
  "color":{"field":"k","type":"nominal",
   "scale":{"domain":["2n = 50a","2n = 49a","2n = 48c","2n = 46a","2n = 47a","2n = 48a","2n = 43, 44, 45, 46*","2n = 42","2n = 43, 44, 45**","2n = 46b","2n = 47b","2n = 48b","2n = 49b","2n=50b","Missing karyotypes"],
            "range":["#d7262b","#d8e08c","#b98a5f","#acd8f2","#e2832e","#2f9e4e","#fbf49e","#b99ccf","#1c8ad0","#aad3a6","#d6505f","#f4c430","#aaaaaa","#f5cab5","#ffffff"]},
   "legend":{"orient":"none","legendX":513,"legendY":421,"title":null,"direction":"vertical","symbolType":"circle","symbolSize":400,
     "symbolStrokeColor":"#cfcfcf","symbolStrokeWidth":0.6,"symbolOpacity":1,"labelFontSize":16,"labelColor":"#222222",
     "rowPadding":7.6,"padding":11,"labelOffset":7,"strokeColor":"#555555","fillColor":"#ffffff","labelLimit":400}}}},
{"data":{"name":"tpies"},"transform":[{"filter":"datum.o == null || datum.o === 1"}],
 "mark":{"type":"point","shape":"circle","filled":false,"size":144,"stroke":"#cccccc","strokeWidth":0.6,"opacity":1}},
{"data":{"name":"edges"},"mark":{"type":"rule","stroke":"#111111","strokeWidth":1.5},
 "encoding":{"x2":{"field":"x2"},"y2":{"field":"y2"}}},
{"data":{"name":"ticks"},"mark":{"type":"point","shape":"M0,-1L0,1","size":36,"filled":false,"stroke":"#111111","strokeWidth":1.4,"opacity":1},
 "encoding":{"angle":{"field":"a","type":"quantitative","scale":null}}},
{"data":{"name":"inner"},"mark":{"type":"point","shape":"circle","filled":true,"size":30,"color":"#111111","opacity":1}},
{"data":{"name":"npies"},
 "transform":[{"stack":"f","groupby":["id"],"sort":[{"field":"o","order":"ascending"}],"as":["t0","t1"],"offset":"normalize"}],
 "mark":{"type":"arc","strokeWidth":0},
 "encoding":{
  "theta":{"field":"t0","type":"quantitative","scale":{"domain":[0,1],"range":[0,6.283185]}},
  "theta2":{"field":"t1"},
  "radius":{"field":"n","type":"quantitative","scale":{"type":"sqrt","domain":[0,30],"range":[0,21.9],"zero":true}},
  "color":{"field":"k","type":"nominal",
   "scale":{"domain":["2n = 50a","2n = 49a","2n = 48c","2n = 46a","2n = 47a","2n = 48a","2n = 43, 44, 45, 46*","2n = 42","2n = 43, 44, 45**","2n = 46b","2n = 47b","2n = 48b","2n = 49b","2n=50b","Missing karyotypes"],
            "range":["#d7262b","#d8e08c","#b98a5f","#acd8f2","#e2832e","#2f9e4e","#fbf49e","#b99ccf","#1c8ad0","#aad3a6","#d6505f","#f4c430","#aaaaaa","#f5cab5","#ffffff"]},
   "legend":{"orient":"none","legendX":513,"legendY":421,"title":null,"direction":"vertical","symbolType":"circle","symbolSize":400,
     "symbolStrokeColor":"#cfcfcf","symbolStrokeWidth":0.6,"symbolOpacity":1,"labelFontSize":16,"labelColor":"#222222",
     "rowPadding":7.6,"padding":11,"labelOffset":7,"strokeColor":"#555555","fillColor":"#ffffff","labelLimit":400}}}},
{"data":{"name":"npies"},"transform":[{"filter":"datum.o == null || datum.o === 1"}],
 "mark":{"type":"point","shape":"circle","filled":false,"stroke":"#cccccc","strokeWidth":0.6,"opacity":1},
 "encoding":{"size":{"field":"n","type":"quantitative","scale":{"type":"linear","domain":[0,30],"range":[0,1918],"zero":true},"legend":null}}},
{"data":{"name":"nlabels"},"transform":[{"filter":"datum.al === 'l'"}],"mark":{"type":"text","align":"left","baseline":"middle","fontSize":9,"color":"#555555"},
 "encoding":{"text":{"field":"t"}}},
{"data":{"name":"nlabels"},"transform":[{"filter":"datum.al === 'c'"}],"mark":{"type":"text","align":"center","baseline":"middle","fontSize":9,"color":"#555555"},
 "encoding":{"text":{"field":"t"}}},
{"data":{"name":"nlabels"},"transform":[{"filter":"datum.al === 'r'"}],"mark":{"type":"text","align":"right","baseline":"middle","fontSize":9,"color":"#555555"},
 "encoding":{"text":{"field":"t"}}},
{"data":{"name":"panels"},"mark":{"type":"text","align":"left","baseline":"middle","fontSize":19,"fontWeight":"bold","color":"#111111"},
 "encoding":{"text":{"field":"t"}}},
{"data":{"name":"species"},"transform":[{"filter":"datum.al === 'l'"}],"mark":{"type":"text","align":"left","baseline":"middle","fontSize":12,"fontStyle":"italic","color":"#222222"},
 "encoding":{"text":{"field":"t"}}},
{"data":{"name":"species"},"transform":[{"filter":"datum.al === 'r'"}],"mark":{"type":"text","align":"right","baseline":"middle","fontSize":12,"fontStyle":"italic","color":"#222222"},
 "encoding":{"text":{"field":"t"}}},
{"data":{"name":"scale"},"mark":{"type":"text","align":"center","baseline":"middle","fontSize":13,"color":"#222222"},
 "encoding":{"text":{"field":"t"}}}
]
}
